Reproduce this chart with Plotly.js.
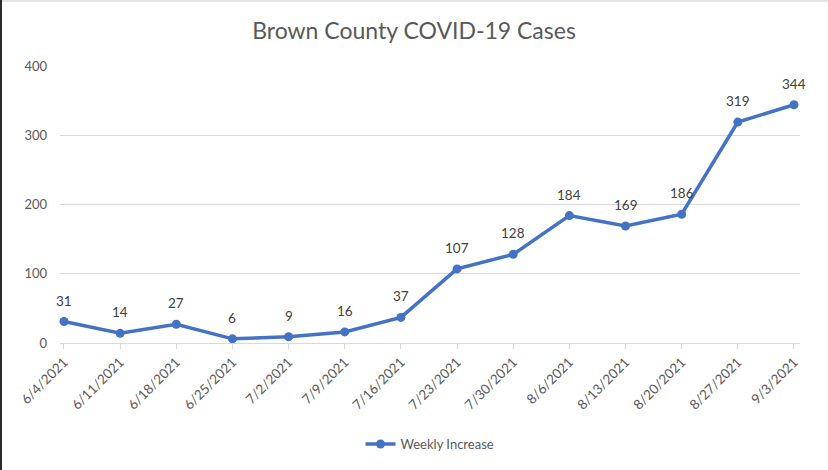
<!DOCTYPE html>
<html>
<head>
<meta charset="utf-8">
<script src="https://cdn.plot.ly/plotly-3.0.1.min.js"></script>
<style>
html,body{margin:0;padding:0;background:#fff;}
#chart{width:828px;height:470px;}
#bl{position:absolute;left:0;top:0;width:2px;height:470px;background:#2b2b2b;}
#bt{position:absolute;left:0;top:0;width:828px;height:2px;background:#e6e6e6;}
</style>
</head>
<body>
<div id="chart"></div>
<div id="bt"></div>
<div id="bl"></div>
<script>
const dates = ["6/4/2021","6/11/2021","6/18/2021","6/25/2021","7/2/2021","7/9/2021","7/16/2021","7/23/2021","7/30/2021","8/6/2021","8/13/2021","8/20/2021","8/27/2021","9/3/2021"];
const weeklyIncrease = [31,14,27,6,9,16,37,107,128,184,169,186,319,344];
const seriesName = "Weekly Increase";
const chartTitle = "Brown County COVID-19 Cases";

const FONT = "Lato, 'Open Sans', sans-serif";
const trace = {
  x: dates,
  y: weeklyIncrease,
  name: seriesName,
  type: "scatter",
  mode: "lines+markers",
  line: {color: "#4472C4", width: 3.5},
  marker: {color: "#4472C4", size: 9},
  cliponaxis: false
};
const labels = dates.map((d, i) => ({
  x: d, y: weeklyIncrease[i], xref: "x", yref: "y",
  text: String(weeklyIncrease[i]), showarrow: false,
  yshift: 21, font: {family: FONT, size: 13.5, color: "#404040"}
}));
const layout = {
  width: 828, height: 470,
  margin: {l: 60, r: 28, t: 66, b: 126},
  paper_bgcolor: "#fff", plot_bgcolor: "#fff",
  title: {text: chartTitle, x: 0.5, xanchor: "center", y: 0.935, yanchor: "middle",
          font: {family: FONT, size: 23, color: "#595959"}},
  font: {family: FONT, color: "#595959", size: 12},
  xaxis: {type: "category", range: [-0.071, 13.107], tickangle: -45,
          showgrid: false, showline: true, linecolor: "#d9d9d9", linewidth: 1,
          ticks: "outside", ticklen: 5, tickcolor: "#d9d9d9",
          tickfont: {family: FONT, size: 13.5, color: "#595959"}, zeroline: false},
  yaxis: {range: [0, 400], dtick: 100, showgrid: true, gridcolor: "#d9d9d9", gridwidth: 1,
          zeroline: false, showline: false, ticks: "", ticklabelstandoff: 12,
          tickfont: {family: FONT, size: 13, color: "#595959"}},
  annotations: labels,
  showlegend: true,
  legend: {orientation: "h", x: 0.5, xanchor: "center", y: -0.36, yanchor: "middle",
           font: {family: FONT, size: 13, color: "#595959"}}
};
Plotly.newPlot("chart", [trace], layout, {displayModeBar: false, staticPlot: true});
</script>
</body>
</html>
